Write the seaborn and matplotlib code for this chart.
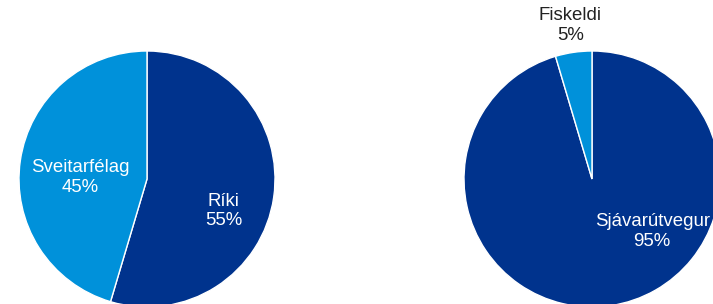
import matplotlib
matplotlib.use("Agg")
import matplotlib.pyplot as plt
import seaborn as sns

# Gögn (hlutföll lesin af myndinni, merkingar sýna námundað gildi)
flokkar_vinstri = ["Ríki", "Sveitarfélag"]
hlutfall_vinstri = [54.6, 45.4]
flokkar_haegri = ["Sjávarútvegur", "Fiskeldi"]
hlutfall_haegri = [95.4, 4.6]

sns.set_theme(style="white")
plt.rcParams['font.family'] = ['Liberation Sans', 'DejaVu Sans']

litir = sns.color_palette(["#00338D", "#0091DA"])

W, H = 713, 304
fig = plt.figure(figsize=(W / 100, H / 100), dpi=100)


def teikna_koku(midja_x, midja_y, radius, flokkar, gildi, stadsetningar, textalitir):
    # midja gefin í pixlum frá efra vinstra horni
    ax = fig.add_axes([(midja_x - radius) / W, (H - midja_y - radius) / H,
                       2 * radius / W, 2 * radius / H])
    ax.pie(gildi, colors=litir, startangle=90, counterclock=False,
           wedgeprops={'edgecolor': 'white', 'linewidth': 1.0}, radius=1)
    ax.set_xlim(-1, 1)
    ax.set_ylim(-1, 1)
    ax.set_aspect('equal')
    ax.axis('off')
    for nafn, g, (x, y), lit in zip(flokkar, gildi, stadsetningar, textalitir):
        ax.text(x, y, f"{nafn}\n{g:.0f}%", ha='center', va='center', fontsize=13.4,
                color=lit, linespacing=1.2, clip_on=False)
    return ax


teikna_koku(147, 179, 128, flokkar_vinstri, hlutfall_vinstri,
            [(0.60, -0.25), (-0.52, 0.01)], ['white', 'white'])
teikna_koku(592, 179, 128, flokkar_haegri, hlutfall_haegri,
            [(0.47, -0.41), (-0.17, 1.20)], ['white', '#222222'])

fig.savefig("out.png", dpi=100)
